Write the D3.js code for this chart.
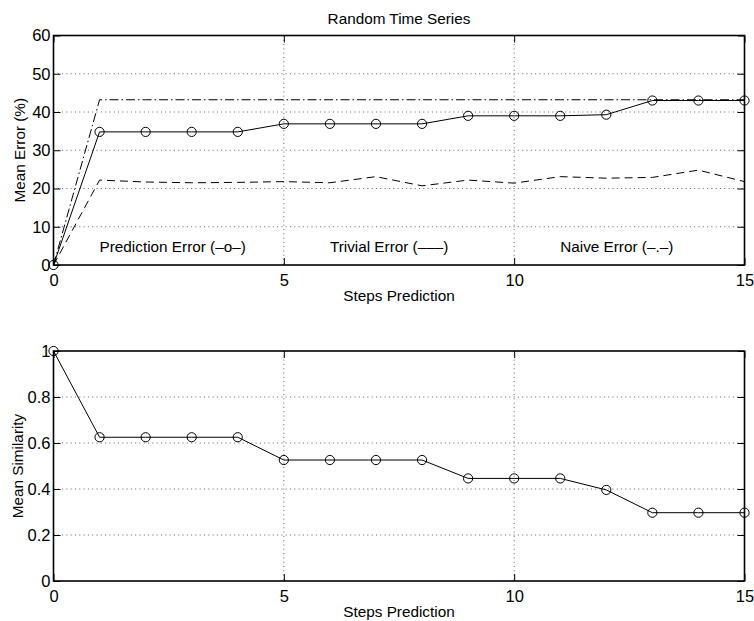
<!DOCTYPE html>
<html>
<head>
<meta charset="utf-8">
<script src="https://cdn.jsdelivr.net/npm/d3@7"></script>
<style>
  html, body { margin: 0; padding: 0; background: #fff; }
  svg { display: block; }
  text { font-family: "Liberation Sans", Arial, Helvetica, sans-serif; fill: #000; }
</style>
</head>
<body>
<svg id="chart" width="754" height="621"></svg>
<script>
// ---- data ----
const steps = [0, 1, 2, 3, 4, 5, 6, 7, 8, 9, 10, 11, 12, 13, 14, 15];
const predictionError = [0, 34.8, 34.8, 34.8, 34.8, 36.9, 36.9, 36.9, 36.9, 39.0, 39.0, 39.0, 39.3, 43.0, 43.0, 43.0];
const trivialError = [0, 22.2, 21.7, 21.5, 21.6, 21.8, 21.5, 23.1, 20.7, 22.2, 21.4, 23.1, 22.7, 22.9, 24.8, 21.8];
const naiveError = [0, 43.2, 43.2, 43.2, 43.2, 43.2, 43.2, 43.2, 43.2, 43.2, 43.2, 43.2, 43.2, 43.2, 43.2, 43.2];
const meanSimilarity = [1.0, 0.625, 0.625, 0.625, 0.625, 0.526, 0.526, 0.526, 0.526, 0.446, 0.446, 0.446, 0.396, 0.297, 0.297, 0.297];

const xTicks = [0, 5, 10, 15];
const errorTicks = [0, 10, 20, 30, 40, 50, 60];
const similarityTicks = [0, 0.2, 0.4, 0.6, 0.8, 1];

const title = "Random Time Series";
const xLabel = "Steps Prediction";
const errorLabel = "Mean Error (%)";
const similarityLabel = "Mean Similarity";
const legendLabels = ["Prediction Error (–o–)", "Trivial Error (–––)", "Naive Error (–.–)"];
const legendSteps = [1, 6, 11];

// ---- layout ----
const FS = 15.3;
const TFS = 16.5;
const svg = d3.select("#chart");
svg.append("rect").attr("width", 754).attr("height", 621).attr("fill", "#fff");

const left = 53.5, right = 744.5;
const x = d3.scaleLinear().domain([0, 15]).range([left, right]);

function panel(top, bottom, yDomain, yTicks, yFmt, yLab, yLabX) {
  const y = d3.scaleLinear().domain(yDomain).range([bottom, top]);
  const g = svg.append("g");

  // grid
  g.append("g").selectAll("line").data(xTicks.filter(t => t > 0 && t < 15)).join("line")
    .attr("x1", d => x(d)).attr("x2", d => x(d)).attr("y1", top).attr("y2", bottom)
    .attr("stroke", "#666").attr("stroke-width", 1).attr("stroke-dasharray", "1,3.3");
  g.append("g").selectAll("line").data(yTicks.slice(1, -1)).join("line")
    .attr("x1", left).attr("x2", right).attr("y1", d => y(d)).attr("y2", d => y(d))
    .attr("stroke", "#666").attr("stroke-width", 1).attr("stroke-dasharray", "1,3.3");

  // axes (inward ticks)
  const ax = g.append("g").attr("transform", `translate(0,${bottom})`)
    .call(d3.axisBottom(x).tickValues(xTicks).tickSize(-7).tickPadding(9).tickFormat(d3.format("d")));
  const axT = g.append("g").attr("transform", `translate(0,${top})`)
    .call(d3.axisTop(x).tickValues(xTicks).tickSize(-7).tickFormat(""));
  const ay = g.append("g").attr("transform", `translate(${left},0)`)
    .call(d3.axisLeft(y).tickValues(yTicks).tickSize(-7).tickPadding(3).tickFormat(yFmt));
  const ayR = g.append("g").attr("transform", `translate(${right},0)`)
    .call(d3.axisRight(y).tickValues(yTicks).tickSize(-7).tickFormat(""));
  [ax, axT, ay, ayR].forEach(a => {
    a.select(".domain").remove();
    a.selectAll(".tick line").attr("stroke", "#000").attr("stroke-width", 1);
    a.selectAll("text").attr("font-size", TFS).attr("font-family", "Liberation Sans, Arial, sans-serif").attr("fill", "#000");
  });

  // box
  g.append("rect").attr("x", left).attr("y", top).attr("width", right - left).attr("height", bottom - top)
    .attr("fill", "none").attr("stroke", "#000").attr("stroke-width", 1.6);

  // labels
  g.append("text").attr("x", (left + right) / 2).attr("y", bottom + 36)
    .attr("text-anchor", "middle").attr("font-size", FS).text(xLabel);
  g.append("text").attr("transform", `translate(${yLabX},${(top + bottom) / 2}) rotate(-90)`)
    .attr("text-anchor", "middle").attr("font-size", FS).text(yLab);
  return { g, y };
}

// ---- top panel ----
const p1 = panel(35.5, 265, [0, 60], errorTicks, d3.format("d"), errorLabel, 25);
svg.append("text").attr("x", (left + right) / 2).attr("y", 24)
  .attr("text-anchor", "middle").attr("font-size", FS).text(title);

const line1 = d3.line().x((d, i) => x(steps[i])).y(d => p1.y(d));
p1.g.append("path").datum(naiveError).attr("d", line1)
  .attr("fill", "none").attr("stroke", "#000").attr("stroke-width", 1).attr("stroke-dasharray", "9,3,1.5,3");
p1.g.append("path").datum(trivialError).attr("d", line1)
  .attr("fill", "none").attr("stroke", "#000").attr("stroke-width", 1).attr("stroke-dasharray", "8,5");
p1.g.append("path").datum(predictionError).attr("d", line1)
  .attr("fill", "none").attr("stroke", "#000").attr("stroke-width", 1);
p1.g.append("g").selectAll("circle").data(predictionError).join("circle")
  .attr("cx", (d, i) => x(steps[i])).attr("cy", d => p1.y(d)).attr("r", 4.6)
  .attr("fill", "none").attr("stroke", "#000").attr("stroke-width", 1);

p1.g.append("g").selectAll("text").data(legendLabels).join("text")
  .attr("x", (d, i) => x(legendSteps[i])).attr("y", p1.y(5)).attr("dy", "0.4em")
  .attr("font-size", FS).text(d => d);

// ---- bottom panel ----
const p2 = panel(351, 581, [0, 1], similarityTicks, d => d === 0 || d === 1 ? d3.format("d")(d) : d3.format(".1f")(d), similarityLabel, 22.7);
const line2 = d3.line().x((d, i) => x(steps[i])).y(d => p2.y(d));
p2.g.append("path").datum(meanSimilarity).attr("d", line2)
  .attr("fill", "none").attr("stroke", "#000").attr("stroke-width", 1);
p2.g.append("g").selectAll("circle").data(meanSimilarity).join("circle")
  .attr("cx", (d, i) => x(steps[i])).attr("cy", d => p2.y(d)).attr("r", 4.6)
  .attr("fill", "none").attr("stroke", "#000").attr("stroke-width", 1);
</script>
</body>
</html>
